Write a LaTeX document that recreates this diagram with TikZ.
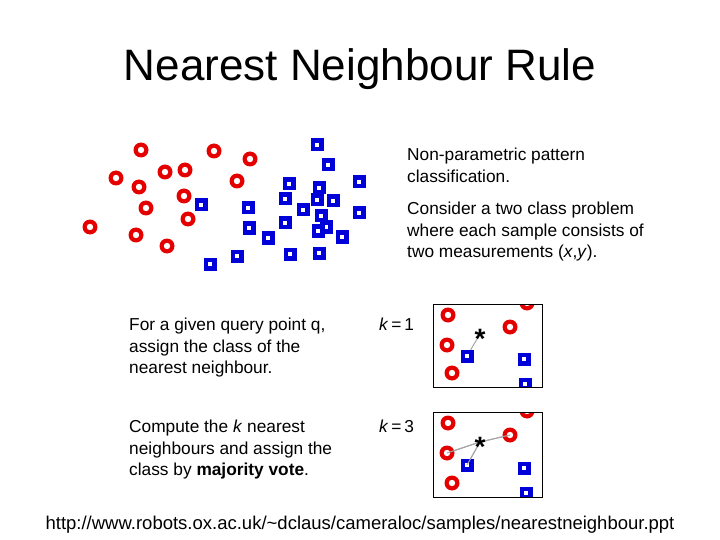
\documentclass[tikz,border=0pt]{standalone}
\usepackage{fontspec}
\setmainfont{Liberation Sans}
\begin{document}
\begin{tikzpicture}[x=1pt,y=-1pt,
  rc/.style={circle,fill=red!90!black,minimum size=15pt,inner sep=0pt,path picture={\fill[white] (path picture bounding box.center) circle (3.2pt);}},
  bs/.style={rectangle,fill=blue!85!black,minimum size=13pt,inner sep=0pt,path picture={\fill[white] ([xshift=-2.2pt,yshift=-2.2pt]path picture bounding box.center) rectangle ([xshift=2.2pt,yshift=2.2pt]path picture bounding box.center);}},
  txt/.style={align=left,anchor=north west,font=\fontsize{17.3}{21.3}\selectfont,inner sep=0pt},
  st/.style={inner sep=0pt,font=\fontsize{28}{28}\selectfont\bfseries},
  nl/.style={gray!70,line width=1pt}]
\useasboundingbox (0,0) rectangle (720,540);
\node[font=\fontsize{44}{48}\selectfont] (title) at (360,69) {Nearest Neighbour Rule};
\foreach \x/\y [count=\i] in {141/150,214/151,250/159,116/178,165/172,185/170,139/187,237/181,184/196,146/208,188/219,90/227,136/235,167/246}
  \node[rc] (c\i) at (\x,\y) {};
\foreach \x/\y [count=\i] in {317/145,328/165,289/184,319/188,359/182,285/199,317/200,333/201,201/205,248/208,303/210,359/213,321/216,285/223,249/228,326/227,318/231,268/238,342/237,210/264,237/256,290/254,319/253}
  \node[bs] (s\i) at (\x,\y) {};
\node[txt] (t1) at (407,148) {Non-parametric pattern\\classification.};
\node[txt] (t2) at (407,202) {Consider a two class problem\\where each sample consists of\\two measurements (\textit{x},\textit{y}).};
\node[txt] (t3) at (129,318) {For a given query point q,\\assign the class of the\\nearest neighbour.};
\node[txt] (t4) at (129,420) {Compute the \textit{k} nearest\\neighbours and assign the\\class by \textbf{majority vote}.};
\node[txt] (k1) at (379,318) {\textit{k}\,=\,1};
\node[txt] (k3) at (379,420) {\textit{k}\,=\,3};
% inset 1
\begin{scope}
\clip (433,304) rectangle (542,387);
\node[rc] (a1) at (448,315) {};
\node[rc] (a2) at (447,345) {};
\node[rc] (a3) at (452,373) {};
\node[rc] (a4) at (510,327) {};
\node[rc] (a5) at (527,303) {};
\coordinate (q1c) at (480,334);
\draw[nl] (q1c) -- (467,356);
\node[bs] (b1) at (467,356) {};
\node[bs] (b2) at (524,359) {};
\node[bs] (b3) at (525,384) {};
\node[st] (q1) at (480,339) {*};
\end{scope}
\node[draw,line width=1pt,minimum width=109pt,minimum height=83pt,anchor=north west,inner sep=0pt] (box1) at (433,304) {};
% inset 2
\begin{scope}
\clip (433,412) rectangle (542,497);
\coordinate (q2c) at (480,442);
\draw[nl] (q2c) -- (447,453);
\draw[nl] (q2c) -- (510,435);
\draw[nl] (q2c) -- (467,465);
\node[rc] (d1) at (448,423) {};
\node[rc] (d2) at (447,453) {};
\node[rc] (d3) at (452,483) {};
\node[rc] (d4) at (510,435) {};
\node[rc] (d5) at (527,411) {};
\node[bs] (e1) at (467,465) {};
\node[bs] (e2) at (524,468) {};
\node[bs] (e3) at (526,493) {};
\draw[nl] (q2c) -- (d2.center);
\draw[nl] (q2c) -- (d4.center);
\draw[nl] (q2c) -- (e1.center);
\node[st] (q2) at (480,447) {*};
\end{scope}
\node[draw,line width=1pt,minimum width=109pt,minimum height=85pt,anchor=north west,inner sep=0pt] (box2) at (433,412) {};
\node[font=\fontsize{18.5}{20}\selectfont] (url) at (360,525) {http://www.robots.ox.ac.uk/\char`\~dclaus/cameraloc/samples/nearestneighbour.ppt};
\end{tikzpicture}
\end{document}
